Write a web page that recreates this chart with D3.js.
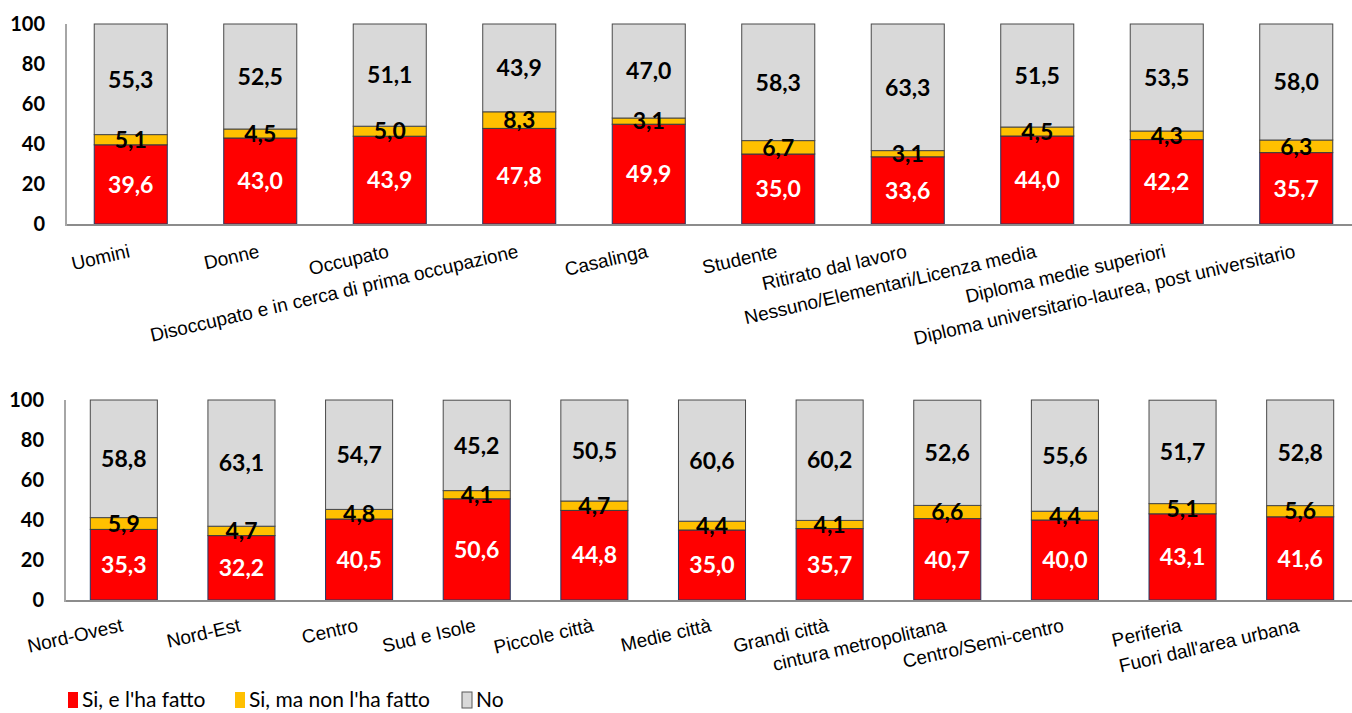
<!DOCTYPE html>
<html>
<head>
<meta charset="utf-8">
<script src="https://cdn.jsdelivr.net/npm/d3@7"></script>
<style>
  html, body { margin: 0; padding: 0; background: #fff; }
  svg { display: block; }
</style>
</head>
<body>
<svg id="chart" width="1352" height="713"></svg>
<script>
// Series names (legend order, stacked bottom to top)
const seriesNames = ["Si, e l'ha fatto", "Si, ma non l'ha fatto", "No"];

// Upper panel: sex, occupation, education
const catsTop = [
  "Uomini", "Donne", "Occupato", "Disoccupato e in cerca di prima occupazione",
  "Casalinga", "Studente", "Ritirato dal lavoro", "Nessuno/Elementari/Licenza media",
  "Diploma medie superiori", "Diploma universitario-laurea, post universitario"
];
const siFattoTop    = [39.6, 43.0, 43.9, 47.8, 49.9, 35.0, 33.6, 44.0, 42.2, 35.7];
const siNonFattoTop = [5.1, 4.5, 5.0, 8.3, 3.1, 6.7, 3.1, 4.5, 4.3, 6.3];
const noTop         = [55.3, 52.5, 51.1, 43.9, 47.0, 58.3, 63.3, 51.5, 53.5, 58.0];

// Lower panel: area and type of municipality
const catsBottom = [
  "Nord-Ovest", "Nord-Est", "Centro", "Sud e Isole", "Piccole città", "Medie città",
  "Grandi città", "cintura metropolitana", "Centro/Semi-centro", "Periferia",
  "Fuori dall'area urbana"
];
const siFattoBottom    = [35.3, 32.2, 40.5, 50.6, 44.8, 35.0, 35.7, 40.7, 40.0, 43.1, 41.6];
const siNonFattoBottom = [5.9, 4.7, 4.8, 4.1, 4.7, 4.4, 4.1, 6.6, 4.4, 5.1, 5.6];
const noBottom         = [58.8, 63.1, 54.7, 45.2, 50.5, 60.6, 60.2, 52.6, 55.6, 51.7, 52.8];

const yTicks = [0, 20, 40, 60, 80, 100];

const colors = ["#FF0000", "#FFC000", "#D9D9D9"];
const strokes = ["#1F3864", "#3a3a3a", "#4a4a4a"];
const labelColors = ["#ffffff", "#000000", "#000000"];

const svg = d3.select("#chart");
const numFmt = v => v.toFixed(1).replace(".", ",");

function panel(cats, s1, s2, s3, box) {
  const rows = cats.map((c, i) => ({ cat: c, s0: s1[i], s1: s2[i], s2: s3[i] }));
  const stack = d3.stack().keys(["s0", "s1", "s2"])(rows);

  const x = d3.scaleBand().domain(cats)
    .range([box.left, box.right])
    .paddingInner(box.pad).paddingOuter(box.pad / 2);
  const y = d3.scaleLinear().domain([0, 100]).range([box.bottom, box.top]);

  const g = svg.append("g");

  // y axis labels
  const yAxis = d3.axisLeft(y).tickValues(yTicks).tickSize(0).tickPadding(0)
    .tickFormat(d3.format("d"));
  const ya = g.append("g").attr("transform", `translate(${box.left - 21},0)`).call(yAxis);
  ya.select(".domain").remove();
  ya.selectAll("text")
    .attr("font-family", "Lato, 'Noto Sans', sans-serif")
    .attr("font-weight", "bold")
    .attr("font-size", 20)
    .attr("fill", "#000");

  // bars
  stack.forEach((layer, k) => {
    g.append("g").selectAll("rect").data(layer).join("rect")
      .attr("x", d => x(d.data.cat))
      .attr("width", x.bandwidth())
      .attr("y", d => y(d[1]))
      .attr("height", d => y(d[0]) - y(d[1]))
      .attr("fill", colors[k])
      .attr("stroke", strokes[k])
      .attr("stroke-width", 1);
  });

  // axis lines
  g.append("line")
    .attr("x1", box.left).attr("x2", 1352)
    .attr("y1", y(0) + 1).attr("y2", y(0) + 1)
    .attr("stroke", "#8c8c8c").attr("stroke-width", 2);
  g.append("line")
    .attr("x1", box.left).attr("x2", box.left)
    .attr("y1", y(100)).attr("y2", y(0) + 2)
    .attr("stroke", "#a6a6a6").attr("stroke-width", 2);

  // value labels
  stack.forEach((layer, k) => {
    g.append("g").selectAll("text").data(layer).join("text")
      .attr("x", d => x(d.data.cat) + x.bandwidth() / 2)
      .attr("y", d => y((d[0] + d[1]) / 2))
      .attr("dy", "0.36em")
      .attr("text-anchor", "middle")
      .attr("font-family", "Lato, 'Noto Sans', sans-serif")
      .attr("font-weight", "bold")
      .attr("font-size", 23)
      .attr("fill", labelColors[k])
      .text(d => numFmt(d[1] - d[0]));
  });

  // category labels, rotated and anchored at the band centre
  g.append("g").selectAll("text").data(cats).join("text")
    .attr("transform", d => `translate(${x(d) + x.bandwidth() / 2},${y(0) + box.labelOffset}) rotate(-13)`)
    .attr("text-anchor", "end")
    .style("font-family", "'Liberation Sans', Arial, sans-serif")
    .attr("font-size", 19)
    .attr("fill", "#000")
    .text(d => d);
}

panel(catsTop, siFattoTop, siNonFattoTop, noTop,
  { left: 66, right: 1361, top: 24, bottom: 224, pad: 0.436, labelOffset: 33 });
panel(catsBottom, siFattoBottom, siNonFattoBottom, noBottom,
  { left: 65, right: 1359, top: 400, bottom: 600, pad: 0.43, labelOffset: 31 });

// legend
const legend = svg.append("g").attr("transform", "translate(68,699)");
const legendGaps = [0, 167, 394];
seriesNames.forEach((name, i) => {
  const item = legend.append("g").attr("transform", `translate(${legendGaps[i]},0)`);
  item.append("rect").attr("x", 0).attr("y", -7).attr("width", 10).attr("height", 16)
    .attr("fill", colors[i]).attr("stroke", i === 2 ? "#595959" : "none");
  item.append("text").attr("x", 14).attr("y", 0).attr("dy", "0.36em")
    .attr("font-family", "Lato, 'Noto Sans', sans-serif")
    .attr("font-size", 21)
    .attr("fill", "#000")
    .text(name);
});
</script>
</body>
</html>
